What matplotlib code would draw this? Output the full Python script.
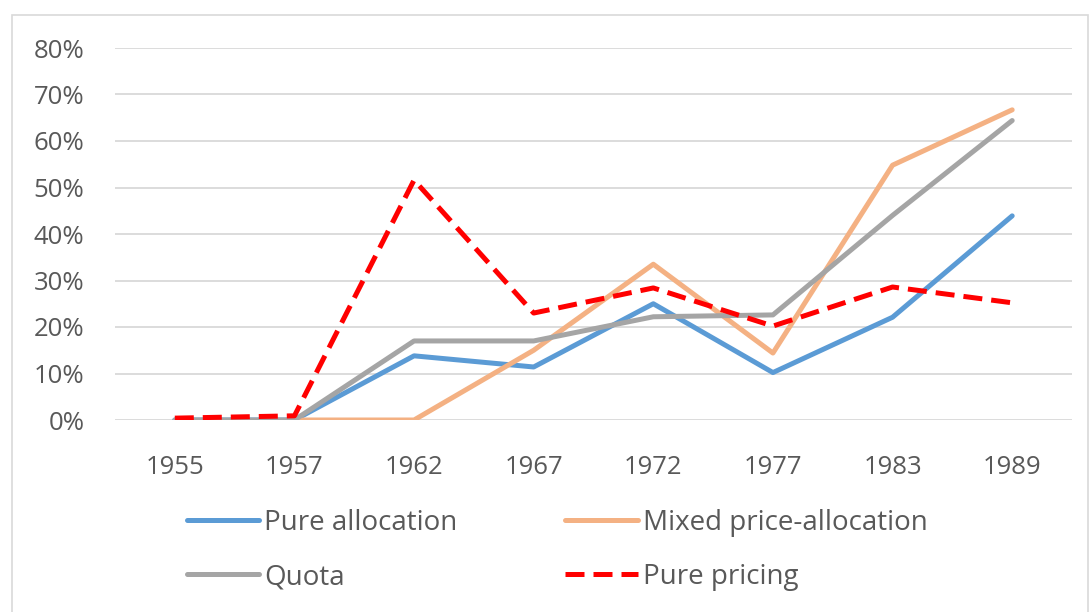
import numpy as np
import matplotlib
matplotlib.use("Agg")
import matplotlib.pyplot as plt
from matplotlib.patches import Rectangle
from matplotlib.ticker import PercentFormatter

# ======================== data
years = ["1955", "1957", "1962", "1967", "1972", "1977", "1983", "1989"]
pure_allocation = [0.0, 0.0, 0.138, 0.114, 0.250, 0.102, 0.221, 0.439]
mixed_price_allocation = [np.nan, 0.0, 0.0, 0.150, 0.335, 0.144, 0.548, 0.667]
quota = [0.0, 0.0, 0.170, 0.170, 0.222, 0.226, 0.440, 0.644]
pure_pricing = [0.004, 0.009, 0.516, 0.230, 0.284, 0.202, 0.286, 0.252]

plt.rcParams["font.family"] = ["Open Sans", "DejaVu Sans"]
text_color = "#595959"

fig = plt.figure(figsize=(10.91, 6.12), dpi=100)
W, H = 1091, 612
ax = fig.add_axes([115 / W, 1 - 420 / H, (1072 - 115) / W, (420 - 48) / H])

x = np.arange(len(years))
l1, = ax.plot(x, pure_allocation, color="#5B9BD5", lw=3.6, label="Pure allocation", solid_capstyle="round")
l2, = ax.plot(x, mixed_price_allocation, color="#F4B183", lw=3.6, label="Mixed price-allocation", solid_capstyle="round")
l3, = ax.plot(x, quota, color="#A5A5A5", lw=3.6, label="Quota", solid_capstyle="round")
l4, = ax.plot(x, pure_pricing, color="#FF0000", lw=3.6, ls=(0, (3.8, 1.8)), label="Pure pricing")

ax.set_xlim(-0.5, len(years) - 0.5)
ax.set_ylim(0, 0.8)
ax.set_yticks(np.arange(0, 0.81, 0.1))
ax.yaxis.set_major_formatter(PercentFormatter(1.0, decimals=0))
ax.set_xticks(x)
ax.set_xticklabels(years)
ax.tick_params(axis="both", length=0, labelsize=18.5, colors=text_color)
ax.tick_params(axis="x", pad=25)
ax.tick_params(axis="y", pad=22)
ax.grid(axis="y", color="#D9D9D9", lw=1.3)
ax.set_axisbelow(True)
for s in ax.spines.values():
    s.set_visible(False)

# chart border
fig.patches.append(Rectangle((12 / W, -0.01), (1088 - 12) / W, 1.01 - 15 / H,
                             transform=fig.transFigure, fill=False,
                             edgecolor="#D9D9D9", lw=1.2))

# row-wise order in a two column legend
handles = [l1, l3, l2, l4]
leg = fig.legend(handles, [h.get_label() for h in handles],
                 loc="center", bbox_to_anchor=(557 / W, 1 - 550 / H), ncol=2,
                 frameon=False, fontsize=20, labelcolor=text_color,
                 handlelength=2.6, handletextpad=0.18, columnspacing=3.9,
                 labelspacing=0.94)

fig.savefig("out.png", dpi=100)
